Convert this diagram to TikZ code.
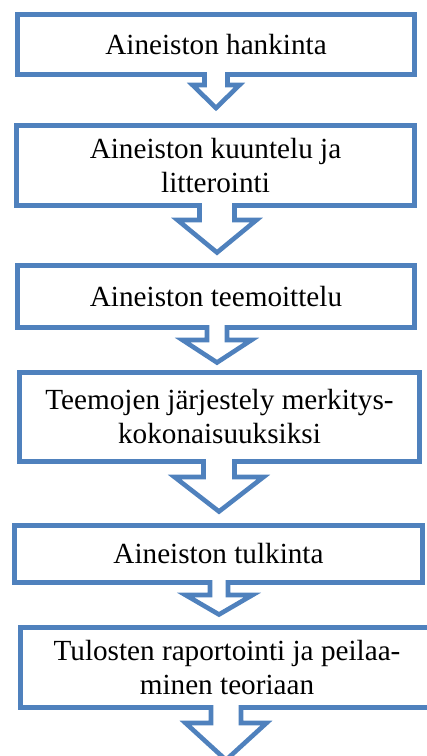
\documentclass[tikz,border=0pt]{standalone}
\usepackage{fontspec}
\setmainfont{Liberation Serif}
\usetikzlibrary{calc}

\definecolor{flowblue}{RGB}{79,129,189}
\tikzset{
  flowline/.style={draw=flowblue, line width=2.3pt},
  flowbox/.style={flowline, fill=white, inner sep=0pt, outer sep=0pt,
    align=center, font=\fontsize{14.6}{17}\selectfont},
}
% #1 box, #2 x shift, #3 stem half width, #4 head half width, #5 stem, #6 head
\newcommand{\flowarrow}[6]{%
  \begin{scope}[shift={($(#1.south)+(#2,0)$)}]
    \fill[white] (-#3,-3) -- (-#3,#5) -- (-#4,#5) -- (0,#5+#6) -- (#4,#5) -- (#3,#5) -- (#3,-3) -- cycle;
    \draw[flowline] (-#3,-2.3) -- (-#3,#5) -- (-#4,#5) -- (0,#5+#6) -- (#4,#5) -- (#3,#5) -- (#3,-2.3);
  \end{scope}}

\begin{document}
\begin{tikzpicture}[x=0.5pt, y=-0.5pt]
    \useasboundingbox (0,0) rectangle (427,756);

    \node[flowbox, minimum width=198.5pt, minimum height=30pt] (hankinta) at (216,44.5) {Aineiston hankinta};
    \node[flowbox, minimum width=199pt, minimum height=40pt] (kuuntelu) at (215.5,165.5) {Aineiston kuuntelu ja\\litterointi};
    \node[flowbox, minimum width=198.5pt, minimum height=31pt] (teemoittelu) at (216,296.5) {Aineiston teemoittelu};
    \node[flowbox, minimum width=200pt, minimum height=44.5pt] (jarjestely) at (219.5,417) {Teemojen järjestely merkitys-\\kokonaisuuksiksi};
    \node[flowbox, minimum width=204pt, minimum height=28.5pt] (tulkinta) at (218.5,554) {Aineiston tulkinta};
    \node[flowbox, minimum width=206.5pt, minimum height=40pt] (raportointi) at (227,667.5) {Tulosten raportointi ja peilaa-\\minen teoriaan};

    \flowarrow{hankinta}{0}{11.5}{23.5}{10.5}{23}
    \flowarrow{kuuntelu}{1.5}{17.5}{39.5}{14.5}{32.5}
    \flowarrow{teemoittelu}{1}{10}{34.5}{12.5}{22.5}
    \flowarrow{jarjestely}{-0.5}{15.5}{44.5}{15.5}{34.5}
    \flowarrow{tulkinta}{0.5}{9}{33.5}{12.5}{19.5}
    \flowarrow{raportointi}{-1}{15}{40.5}{15.5}{37}

  \end{tikzpicture}
\end{document}
